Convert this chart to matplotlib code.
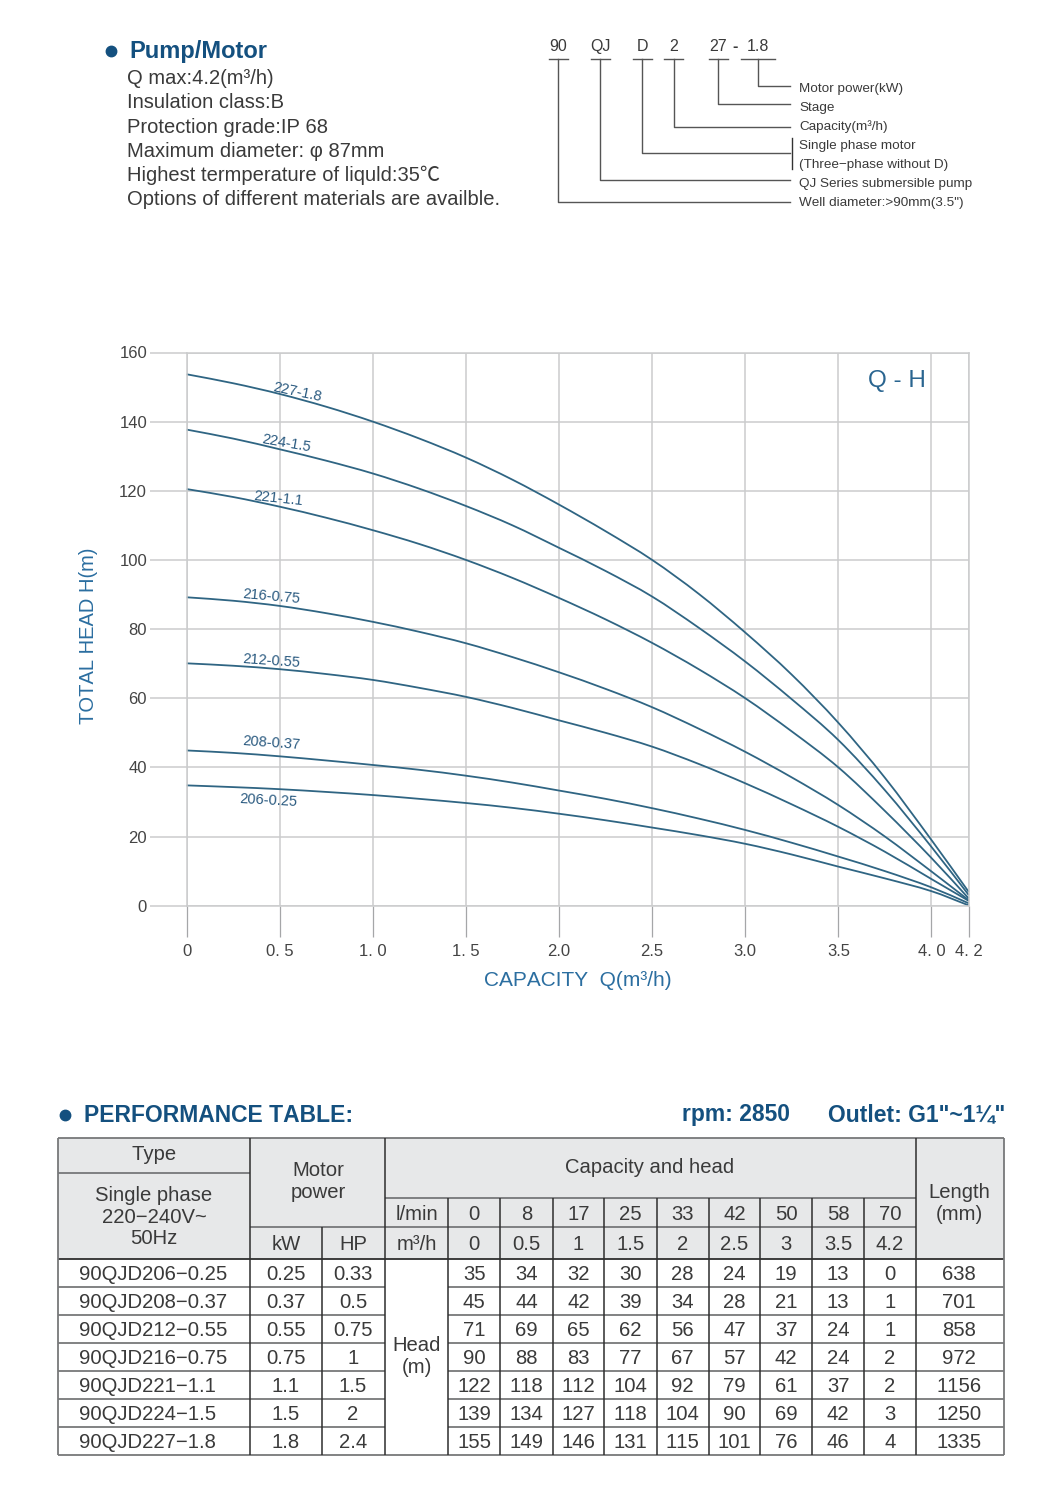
import matplotlib
matplotlib.use("Agg")
import matplotlib.pyplot as plt
from matplotlib.patches import PathPatch, Rectangle
from matplotlib.path import Path

plt.rcParams['font.family'] = ['Liberation Sans', 'Noto Sans CJK SC', 'DejaVu Sans']
plt.rcParams['text.kerning_factor'] = 6

# Q-H curves
capacity = [0, 0.25, 0.5, 0.75, 1, 1.25, 1.5, 1.75, 2, 2.25, 2.5, 2.75, 3, 3.25, 3.5, 3.75, 4, 4.2]
head_227 = [153.7, 151.1, 148, 144.3, 140, 135.1, 129.6, 123.2, 116, 108.3, 100, 90.2, 79, 66.8, 52.9, 37, 19, 4]
head_224 = [137.7, 135.1, 132, 128.7, 125, 120.6, 115.6, 110, 103.5, 96.8, 89.4, 80.4, 70.6, 59.7, 47.9, 33.4, 17, 3.1]
head_221 = [120.5, 118.2, 115.4, 112.2, 108.6, 104.6, 100, 94.8, 89, 82.8, 76, 68.4, 60, 50.4, 40, 27.4, 13.8, 2.1]
head_216 = [89.2, 88.2, 86.7, 84.6, 82.1, 79.2, 75.9, 71.9, 67.5, 62.7, 57.4, 51.2, 44.5, 37.1, 29.1, 20, 9.9, 1.6]
head_212 = [70.1, 69.4, 68.4, 67, 65.3, 63, 60.4, 57.2, 53.6, 50, 46, 41, 35.4, 29.3, 22.8, 15.6, 7.7, 1.4]
head_208 = [44.9, 44.2, 43.2, 42, 40.7, 39.3, 37.6, 35.6, 33.3, 30.9, 28.2, 25.2, 21.9, 18.2, 14.2, 10, 5.3, 0.7]
head_206 = [34.8, 34.3, 33.7, 32.9, 32, 30.9, 29.7, 28.3, 26.6, 24.7, 22.6, 20.4, 17.9, 14.8, 11.3, 7.9, 4.2, 0.1]
curves = [head_227, head_224, head_221, head_216, head_212, head_208, head_206]

curve_names = ['227-1.8', '224-1.5', '221-1.1', '216-0.75', '212-0.55', '208-0.37', '206-0.25']

x_ticks = [0, 0.5, 1, 1.5, 2, 2.5, 3, 3.5, 4, 4.2]
x_tick_labels = ['0', '0. 5', '1. 0', '1. 5', '2.0', '2.5', '3.0', '3.5', '4. 0', '4. 2']
y_ticks = [0, 20, 40, 60, 80, 100, 120, 140, 160]

# table
lpm = ['0', '8', '17', '25', '33', '42', '50', '58', '70']
m3h = ['0', '0.5', '1', '1.5', '2', '2.5', '3', '3.5', '4.2']
types = ['90QJD206−0.25', '90QJD208−0.37', '90QJD212−0.55', '90QJD216−0.75',
         '90QJD221−1.1', '90QJD224−1.5', '90QJD227−1.8']
kw = ['0.25', '0.37', '0.55', '0.75', '1.1', '1.5', '1.8']
hp = ['0.33', '0.5', '0.75', '1', '1.5', '2', '2.4']
heads = [[35, 34, 32, 30, 28, 24, 19, 13, 0],
         [45, 44, 42, 39, 34, 28, 21, 13, 1],
         [71, 69, 65, 62, 56, 47, 37, 24, 1],
         [90, 88, 83, 77, 67, 57, 42, 24, 2],
         [122, 118, 112, 104, 92, 79, 61, 37, 2],
         [139, 134, 127, 118, 104, 90, 69, 42, 3],
         [155, 149, 146, 131, 115, 101, 76, 46, 4]]
lengths = [638, 701, 858, 972, 1156, 1250, 1335]

spec_lines = ['Q max:4.2(m³/h)', 'Insulation class:B', 'Protection grade:IP 68',
              'Maximum diameter: φ 87mm', 'Highest termperature of liquld:35℃',
              'Options of different materials are availble.']
code_parts = ['90', 'QJ', 'D', '2', '27', '1.8']
code_notes = ['Motor power(kW)', 'Stage', 'Capacity(m³/h)', 'Single phase motor',
              '(Three−phase without D)', 'QJ Series submersible pump', 'Well diameter:>90mm(3.5")']

W, H = 1045, 1499
BLUE = '#14507f'
CURVE = '#2f6583'
GRID = '#cbcccd'
TEXT = '#3a3a3a'


def smooth_path(xs, ys):
    """Bezier path that passes through every point (Catmull-Rom tangents)."""
    verts = [(xs[0], ys[0])]
    codes = [Path.MOVETO]
    n = len(xs)
    for i in range(n - 1):
        a, b = max(i - 1, 0), min(i + 2, n - 1)
        h = xs[i + 1] - xs[i]
        m0 = (ys[i + 1] - ys[a]) / (xs[i + 1] - xs[a])
        m1 = (ys[b] - ys[i]) / (xs[b] - xs[i])
        verts.append((xs[i] + h / 3, ys[i] + m0 * h / 3))
        verts.append((xs[i + 1] - h / 3, ys[i + 1] - m1 * h / 3))
        verts.append((xs[i + 1], ys[i + 1]))
        codes += [Path.CURVE4, Path.CURVE4, Path.CURVE4]
    return Path(verts, codes)


fig = plt.figure(figsize=(W / 100, H / 100), dpi=100, facecolor='white')

# chart axes, placed on the page in pixels
left, right, top, bottom = 186.7, 968.7, 352.5, 905.7
ax = fig.add_axes([left / W, 1 - bottom / H, (right - left) / W, (bottom - top) / H])
ax.set_xlim(0, 4.2)
ax.set_ylim(0, 160)
for spine in ax.spines.values():
    spine.set_color(GRID)
    spine.set_linewidth(1.1)
ax.set_xticks(x_ticks, x_tick_labels, fontsize=12, color='#444444')
ax.set_yticks(y_ticks, [str(v) for v in y_ticks], fontsize=12, color='#444444')
ax.tick_params(axis='x', length=22.5, width=0.9, color='#a5a6a8', pad=5)
ax.tick_params(axis='y', length=26.5, width=1.1, color=GRID, pad=2)
ax.grid(True, color=GRID, linewidth=1.1)
ax.set_axisbelow(True)
for head in curves:
    ax.add_patch(PathPatch(smooth_path(capacity, head), facecolor='none', edgecolor=CURVE,
                           linewidth=1.3, clip_on=False))

# everything else is drawn in page pixels
page = fig.add_axes([0, 0, 1, 1])
page.set_xlim(0, W)
page.set_ylim(H, 0)
page.axis('off')

page.text(897, 381, 'Q - H', fontsize=17.5, color='#2a6590', ha='center', va='center')
page.text(88, 636, 'TOTAL HEAD H(m)', fontsize=14.5, color='#2b6ea0', rotation=90, ha='center', va='center')
page.text(578, 980, 'CAPACITY  Q(m³/h)', fontsize=15, color='#2b6ea0', ha='center', va='center')

label_x = [297, 286, 278, 271, 271, 271, 268]
label_y = [392, 443, 499, 597, 661, 743, 801]
label_rot = [-12, -10, -6, -5, -4, -4, -3]
for name, lx, ly, rot in zip(curve_names, label_x, label_y, label_rot):
    page.text(lx, ly, name, fontsize=10.5, color='#2a5a80', rotation=rot, ha='center', va='center',
              rotation_mode='anchor')

# heading and spec text
page.plot([111], [51], 'o', color=BLUE, markersize=7.5)
page.text(129, 51, 'Pump/Motor', fontsize=17, fontweight='bold', color=BLUE, va='center')
spec_y = [78, 102, 127, 151, 175, 199]
for line, y in zip(spec_lines, spec_y):
    page.text(127, y, line, fontsize=14.5, color=TEXT, va='center')

# model code legend
part_x = [558, 600, 642, 673.5, 718, 758]
part_w = [9.5, 9.5, 9.5, 9.5, 9.5, 17]
for part, x, w in zip(code_parts, part_x, part_w):
    page.text(x, 46, part, fontsize=11.5, color=TEXT, ha='center', va='center')
    page.plot([x - w, x + w], [58.5, 58.5], color='#555555', lw=1)
page.text(735, 46, '-', fontsize=11.5, fontweight='bold', color=TEXT, ha='center', va='center')
drop_y = [202, 180, 153, 127, 104, 86]
for x, y in zip(part_x, drop_y):
    page.plot([x, x, 790], [58.5, y, y], color='#555555', lw=1)
page.plot([791.5, 791.5], [138, 169], color='#333333', lw=1)
note_y = [89, 108, 126.5, 145.5, 164.5, 183.5, 202.5]
for note, y in zip(code_notes, note_y):
    page.text(799, y, note, fontsize=9.7, color=TEXT, va='center')

# performance table header text
page.plot([65], [1115], 'o', color=BLUE, markersize=7.5)
page.text(84, 1115, 'PERFORMANCE TABLE:', fontsize=16.5, fontweight='bold', color=BLUE, va='center')
page.text(682, 1115, 'rpm: 2850', fontsize=16.5, fontweight='bold', color=BLUE, va='center')
page.text(828, 1115, 'Outlet: G1"~1¼"', fontsize=16.5, fontweight='bold', color=BLUE, va='center')

col_x = [58.3, 250.3, 321.7, 385, 448.3, 500.3, 552.7, 604.3, 656.7, 708.7, 760.3, 812.3, 864, 916, 1004]
row_y = [1259.3, 1287.3, 1315.2, 1343.2, 1371.1, 1399.1, 1427, 1454.5]
t_top, t_type, t_cap, t_flow = 1138.3, 1172.7, 1198.3, 1227.3
t_head, t_end = row_y[0], row_y[-1]
LINE_D = '#2e2e2e'
LINE_G = '#77787a'

page.add_patch(Rectangle((col_x[0], t_top), col_x[-1] - col_x[0], t_head - t_top, facecolor='#e7e8e9', edgecolor='none'))


def hline(x0, x1, y, color=LINE_G, lw=1.3):
    page.plot([x0, x1], [y, y], color=color, lw=lw, solid_capstyle='butt')


def vline(x, y0, y1, color=LINE_D, lw=1.1):
    page.plot([x, x], [y0, y1], color=color, lw=lw, solid_capstyle='butt')


def cell(x, y, s, size=14.6, ha='center'):
    page.text(x, y + 1.5, s, fontsize=size, color=TEXT, ha=ha, va='center')


hline(col_x[0], col_x[-1], t_top)
hline(col_x[0], col_x[1], t_type)
hline(col_x[3], col_x[13], t_cap)
hline(col_x[1], col_x[3], t_flow)
hline(col_x[3], col_x[13], t_flow)
hline(col_x[0], col_x[-1], t_head, LINE_D)
for y in row_y[1:-1]:
    hline(col_x[0], col_x[3], y)
    hline(col_x[4], col_x[-1], y)
hline(col_x[0], col_x[-1], t_end)

vline(col_x[0], t_top, t_end, LINE_G, 1.3)
vline(col_x[-1], t_top, t_end, LINE_G, 1.3)
vline(col_x[1], t_top, t_end)
vline(col_x[2], t_flow, t_end)
vline(col_x[3], t_top, t_end)
vline(col_x[4], t_cap, t_end)
for x in col_x[5:13]:
    vline(x, t_cap, t_end)
vline(col_x[13], t_top, t_end)

cell(154, 1153, 'Type')
cell(154, 1194, 'Single phase')
cell(154, 1216, '220−240V~')
cell(154, 1237, '50Hz')
cell(318, 1169, 'Motor')
cell(318, 1191, 'power')
cell(286, 1243, 'kW')
cell(353, 1243, 'HP')
cell(650, 1166, 'Capacity and head')
cell(959, 1191, 'Length')
cell(959, 1213, '(mm)')
cell(417, 1213, 'l/min')
cell(417, 1243, 'm³/h')
cell(417, 1344, 'Head')
cell(417, 1366, '(m)')

for i in range(9):
    cx = (col_x[4 + i] + col_x[5 + i]) / 2
    cell(cx, 1213, lpm[i])
    cell(cx, 1243, m3h[i])

for r in range(7):
    cy = (row_y[r] + row_y[r + 1]) / 2
    cell(79, cy, types[r], ha='left')
    cell(286, cy, kw[r])
    cell(353, cy, hp[r])
    for i, val in enumerate(heads[r]):
        cell((col_x[4 + i] + col_x[5 + i]) / 2, cy, str(val))
    cell(959, cy, str(lengths[r]))

fig.savefig('out.png', dpi=100, facecolor='white')
